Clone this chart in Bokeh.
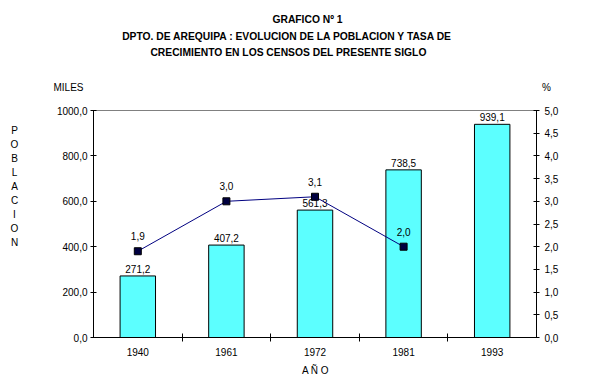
from bokeh.plotting import figure
from bokeh.models import Range1d, LinearAxis, FixedTicker, Label, ColumnDataSource
from bokeh.embed import file_html
from bokeh.resources import INLINE
from bokeh.core.properties import value

# ---- data ----
years = ["1940", "1961", "1972", "1981", "1993"]
poblacion = [271.2, 407.2, 561.3, 738.5, 939.1]
tasa_years = ["1940", "1961", "1972", "1981"]
tasa = [1.9, 3.0, 3.1, 2.0]
left_ticks = [0, 200, 400, 600, 800, 1000]
right_ticks = [0.0, 0.5, 1.0, 1.5, 2.0, 2.5, 3.0, 3.5, 4.0, 4.5, 5.0]
title_lines = ["GRAFICO Nº 1",
               "DPTO. DE AREQUIPA : EVOLUCION DE LA POBLACION Y TASA DE",
               "CRECIMIENTO EN LOS CENSOS DEL PRESENTE SIGLO"]
y_title = "POBLACION"
x_title = "A Ñ O"
left_unit = "MILES"
right_unit = "%"


def fmt(v):
    return f"{v:.1f}".replace(".", ",")


FONT = "Liberation Sans"
FS = "10px"

xs = [i + 0.5 for i in range(len(years))]
xs_t = [years.index(y) + 0.5 for y in tasa_years]

p = figure(width=581, height=376, output_backend="svg", toolbar_location=None,
           x_range=Range1d(0, len(years)), y_range=Range1d(0, 1000),
           min_border_left=93, min_border_right=45, min_border_top=110,
           min_border_bottom=39)
p.extra_y_ranges = {"pct": Range1d(0, 5)}
p.xgrid.visible = False
p.ygrid.visible = False
p.outline_line_color = "#808080"
p.background_fill_color = "white"
p.border_fill_color = "white"

# x axis
p.xaxis.ticker = FixedTicker(ticks=xs, minor_ticks=list(range(1, len(years))))
p.xaxis.major_label_overrides = {x: y for x, y in zip(xs, years)}
p.xaxis.major_tick_in = 0
p.xaxis.major_tick_out = 0
p.xaxis.minor_tick_in = 4
p.xaxis.minor_tick_out = 4

# left axis
p.yaxis.ticker = FixedTicker(ticks=left_ticks, minor_ticks=[])
p.yaxis.major_label_overrides = {t: fmt(t) for t in left_ticks}
p.yaxis.major_tick_in = 3
p.yaxis.major_tick_out = 3

# right axis
ra = LinearAxis(y_range_name="pct", ticker=FixedTicker(ticks=right_ticks, minor_ticks=[]))
ra.major_label_overrides = {t: fmt(t) for t in right_ticks}
ra.major_tick_in = 3
ra.major_tick_out = 3
p.add_layout(ra, "right")

for ax in [p.xaxis[0], p.yaxis[0], ra]:
    ax.axis_line_color = "black"
    ax.major_tick_line_color = "black"
    ax.minor_tick_line_color = "black"
    ax.major_label_text_font = FONT
    ax.major_label_text_font_size = FS
    ax.major_label_text_color = "black"
p.xaxis.major_label_standoff = 6
p.yaxis.major_label_standoff = 3
ra.major_label_standoff = 5

# bars
bsrc = ColumnDataSource(dict(x=xs, top=poblacion, lab=[fmt(v) for v in poblacion]))
p.vbar(x="x", top="top", width=0.4, source=bsrc, fill_color="#5cffff",
       line_color="black", line_width=1)
p.text(x="x", y="top", text="lab", source=bsrc, y_offset=-3,
       text_align="center", text_baseline="bottom",
       text_font=value(FONT), text_font_size=FS, text_color="black")

# line
lsrc = ColumnDataSource(dict(x=xs_t, y=tasa, lab=[fmt(v) for v in tasa]))
p.line(x="x", y="y", source=lsrc, y_range_name="pct", line_color="#000080", line_width=1)
p.scatter(x="x", y="y", source=lsrc, y_range_name="pct", marker="square", size=7,
          fill_color="#000040", line_color="#000000")
p.text(x="x", y="y", text="lab", source=lsrc, y_range_name="pct", y_offset=-11,
       text_align="center", text_baseline="bottom",
       text_font=value(FONT), text_font_size=FS, text_color="black")


def canvas_label(x, y, t, place, **kw):
    opts = dict(text_align="center", text_baseline="middle", text_font=FONT,
                text_font_size=FS, text_color="black")
    opts.update(kw)
    p.add_layout(Label(x=x, y=y, x_units="canvas", y_units="canvas", text=t, **opts), place)


tpos = [(307, 19), (287, 36), (288, 52)]
for t, (x, y) in zip(title_lines, tpos):
    canvas_label(x, y, t, "above", text_font_size="10.3px", text_font_style="bold")

canvas_label(68, 87, left_unit, "above")
canvas_label(315, 370, x_title, "above")
canvas_label(546, 87, right_unit, "right")
canvas_label(14, 186, "\n".join(y_title), "left", text_line_height=1.28)

open("out.html", "w").write(file_html(p, INLINE))
